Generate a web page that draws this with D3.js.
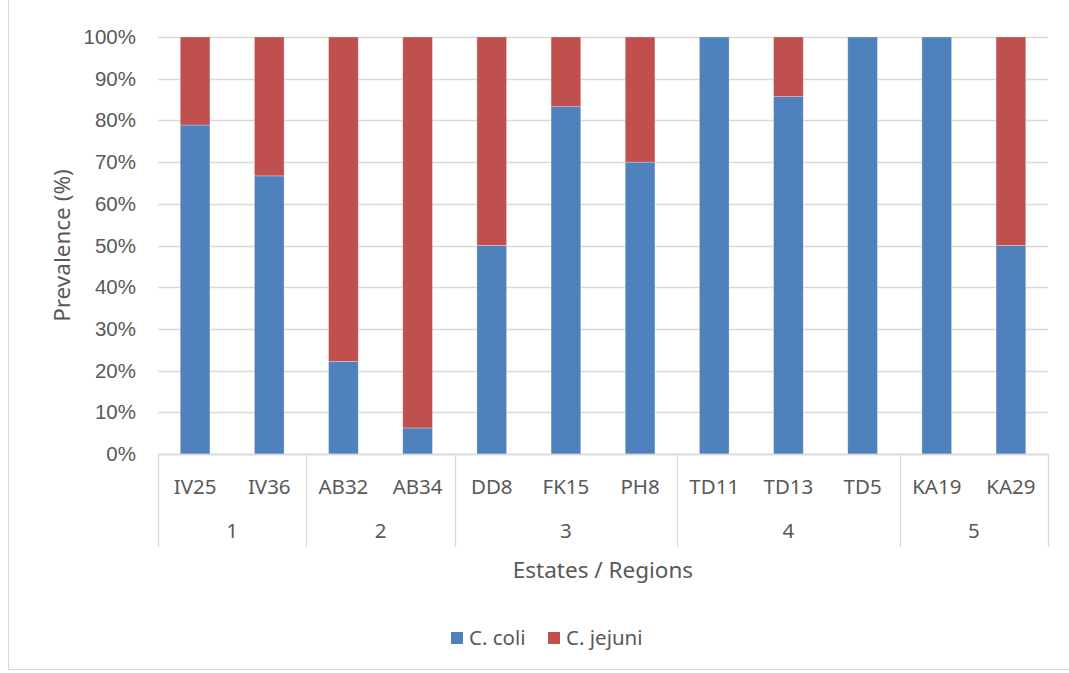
<!DOCTYPE html>
<html><head><meta charset="utf-8">
<script src="https://cdn.jsdelivr.net/npm/d3@7"></script>
<style>body{margin:0;background:#fff;}svg{display:block;font-family:"Noto Sans","Open Sans",sans-serif;}</style>
</head><body><svg id="c" width="1069" height="673"></svg>
<script>
const categories = ["IV25","IV36","AB32","AB34","DD8","FK15","PH8","TD11","TD13","TD5","KA19","KA29"];
const regions = ["1","1","2","2","3","3","3","4","4","4","5","5"];
const cColi = [78.9,66.7,22.2,6.25,50,83.3,70,100,85.7,100,100,50];
const cJejuni = cColi.map(v => 100 - v);
const seriesNames = ["C. coli","C. jejuni"];
const colors = ["#4f81bd","#c0504d"];
const yTicks = [0,10,20,30,40,50,60,70,80,90,100];

(function(){
const svg = d3.select("#c");
const pL = 158, pR = 1048, pT = 37, pB = 454;
const x = d3.scaleBand().domain(categories).range([pL, pR]).paddingInner(0.6).paddingOuter(0.3);
const xb = d3.scaleBand().domain(categories).range([pL, pR]);
const y = d3.scaleLinear().domain([0,100]).range([pB, pT]);
const textCol = "#595959", gridCol = "#d9d9d9";
const fs = "20.5px", tfs = "22.5px";

svg.append("rect").attr("x",8.5).attr("y",-5).attr("width",1075).attr("height",674.5).attr("fill","none").attr("stroke",gridCol);

svg.append("g").selectAll("line").data(yTicks).join("line")
  .attr("x1",pL).attr("x2",pR).attr("y1",d=>Math.round(y(d))+0.5).attr("y2",d=>Math.round(y(d))+0.5)
  .attr("stroke",gridCol).attr("stroke-width",1.3);

const yAxis = d3.axisLeft(y).tickValues(yTicks).tickFormat(d=>d+"%").tickSize(0).tickPadding(22);
const ya = svg.append("g").attr("transform",`translate(${pL},0)`).call(yAxis);
ya.select(".domain").remove();
ya.selectAll("text").attr("fill",textCol).style("font-size",fs).style("font-family","inherit");

const stacked = d3.stack().keys([0,1])(categories.map((c,i)=>({cat:c,0:cColi[i],1:cJejuni[i]})));
svg.append("g").selectAll("g").data(stacked).join("g").attr("fill",(d,i)=>colors[i])
  .selectAll("rect").data(d=>d.filter(p=>p[1]-p[0]>0)).join("rect")
  .attr("x",d=>x(d.data.cat)).attr("width",x.bandwidth())
  .attr("y",d=>y(d[1])).attr("height",d=>y(d[0])-y(d[1]))
  .attr("stroke","#ffffff").attr("stroke-opacity",0.35).attr("stroke-width",0.8);

svg.append("line").attr("x1",pL).attr("x2",pR).attr("y1",pB+0.5).attr("y2",pB+0.5).attr("stroke",gridCol).attr("stroke-width",1.3);
svg.append("g").selectAll("text").data(categories).join("text")
  .attr("x",d=>xb(d)+xb.bandwidth()/2).attr("y",494).attr("text-anchor","middle")
  .attr("fill",textCol).style("font-size",fs).text(d=>d);

const groups = [];
regions.forEach((r,i)=>{ if(!groups.length || groups[groups.length-1].r!==r) groups.push({r,start:i,end:i}); else groups[groups.length-1].end=i; });
const bounds = [xb(categories[0])].concat(groups.map(g=>xb(categories[g.end])+xb.bandwidth()));
svg.append("g").selectAll("line").data(bounds).join("line")
  .attr("x1",d=>Math.round(d)+0.5).attr("x2",d=>Math.round(d)+0.5).attr("y1",pB).attr("y2",547)
  .attr("stroke",gridCol).attr("stroke-width",1.3);
svg.append("g").selectAll("text").data(groups).join("text")
  .attr("x",g=>(xb(categories[g.start])+xb(categories[g.end])+xb.bandwidth())/2).attr("y",538)
  .attr("text-anchor","middle").attr("fill",textCol).style("font-size",fs).text(g=>g.r);

svg.append("text").attr("x",(pL+pR)/2).attr("y",578).attr("text-anchor","middle").attr("fill",textCol).style("font-size",tfs).text("Estates / Regions");
svg.append("text").attr("transform",`translate(70,${(pT+pB)/2}) rotate(-90)`).attr("text-anchor","middle").attr("fill",textCol).style("font-size",tfs).text("Prevalence (%)");

const lx = [451, 548];
seriesNames.forEach((n,i)=>{
  svg.append("rect").attr("x",lx[i]).attr("y",632).attr("width",12).attr("height",12).attr("fill",colors[i]);
  svg.append("text").attr("x",lx[i]+18).attr("y",645).attr("fill",textCol).style("font-size",fs).text(n);
});
})();
</script></body></html>
